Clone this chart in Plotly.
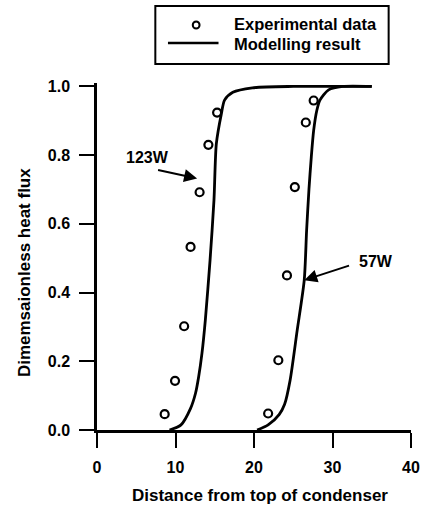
import plotly.graph_objects as go

# ---- data ----
exp_123_x = [8.62, 9.94, 11.1, 11.92, 13.07, 14.19, 15.3]
exp_123_y = [0.046, 0.143, 0.302, 0.533, 0.692, 0.830, 0.924]
exp_57_x = [21.8, 23.1, 24.2, 25.2, 26.6, 27.6]
exp_57_y = [0.048, 0.203, 0.45, 0.707, 0.895, 0.959]

mod_123_x = [9.24, 10.7, 11.92, 12.55, 12.95, 13.37, 13.8, 14.4, 14.9, 15.2, 15.84, 16.25, 17.3, 19.8, 25.0, 35.0]
mod_123_y = [0.0, 0.015, 0.063, 0.107, 0.155, 0.223, 0.32, 0.494, 0.669, 0.833, 0.92, 0.96, 0.983, 0.996, 1.0, 1.0]
mod_57_x = [20.4, 21.8, 23.2, 23.9, 24.6, 25.5, 26.4, 26.7, 27.0, 27.3, 27.6, 28.0, 28.4, 29.5, 31.3, 35.0]
mod_57_y = [0.0, 0.015, 0.045, 0.075, 0.145, 0.29, 0.436, 0.58, 0.70, 0.795, 0.872, 0.93, 0.96, 0.99, 1.0, 1.0]

x_ticks = [0, 10, 20, 30, 40]
y_ticks = [0.0, 0.2, 0.4, 0.6, 0.8, 1.0]

legend_labels = ["Experimental data", "Modelling result"]
x_title = "Distance from top of condenser"
y_title = "Dimemsaionless heat flux"
label_123 = "123W"
label_57 = "57W"
arrow_123 = dict(tail=(7.59, 0.758), head=(12.75, 0.732), text=(6.44, 0.794))
arrow_57 = dict(tail=(32.3, 0.48), head=(26.4, 0.436), text=(35.6, 0.49))

# ---- layout geometry ----
W, H = 431, 513
ML, MR, MT, MB = 97, 11, 83, 83
PW, PH = W - ML - MR, H - MT - MB
FONT = "Liberation Sans, Arial, sans-serif"


def px_x(p):
    return (p - ML) / PW


def px_y(p):
    return (H - MB - p) / PH


fig = go.Figure()

for mx, my in [(mod_123_x, mod_123_y), (mod_57_x, mod_57_y)]:
    fig.add_trace(go.Scatter(x=mx, y=my, mode="lines", showlegend=False,
                             line=dict(color="black", width=2.8, shape="spline", smoothing=0.7)))

for ex, ey in [(exp_123_x, exp_123_y), (exp_57_x, exp_57_y)]:
    fig.add_trace(go.Scatter(x=ex, y=ey, mode="markers", showlegend=False, cliponaxis=False,
                             marker=dict(symbol="circle-open", size=8, color="black",
                                         line=dict(width=2.2, color="black"))))

annotations = []
shapes = []

# arrows and labels
for arr, lab in [(arrow_123, label_123), (arrow_57, label_57)]:
    annotations.append(dict(x=arr["head"][0], y=arr["head"][1], ax=arr["tail"][0], ay=arr["tail"][1],
                            xref="x", yref="y", axref="x", ayref="y", text="", showarrow=True,
                            arrowhead=2, arrowsize=1.3, arrowwidth=2, arrowcolor="black"))
    annotations.append(dict(x=arr["text"][0], y=arr["text"][1], xref="x", yref="y", text=lab,
                            showarrow=False, font=dict(family=FONT, size=16, color="black", weight="bold")))

# axis titles
annotations.append(dict(x=px_x(265), y=px_y(495), xref="paper", yref="paper", text=x_title,
                        showarrow=False, xanchor="center", yanchor="middle",
                        font=dict(family=FONT, size=17, color="black", weight="bold")))
annotations.append(dict(x=px_x(22), y=px_y(273), xref="paper", yref="paper", text=y_title,
                        showarrow=False, xanchor="center", yanchor="middle", textangle=-90,
                        font=dict(family=FONT, size=17, color="black", weight="bold")))

# manual legend
shapes.append(dict(type="rect", xref="paper", yref="paper",
                   x0=px_x(157), x1=px_x(397), y0=px_y(64), y1=px_y(6),
                   line=dict(color="black", width=2), fillcolor="white"))
shapes.append(dict(type="circle", xref="paper", yref="paper",
                   x0=px_x(195.5), x1=px_x(202.5), y0=px_y(28.5), y1=px_y(21.5),
                   line=dict(color="black", width=2)))
shapes.append(dict(type="line", xref="paper", yref="paper",
                   x0=px_x(170), x1=px_x(222), y0=px_y(43), y1=px_y(43),
                   line=dict(color="black", width=2.5)))
for lab, py in zip(legend_labels, [24, 44]):
    annotations.append(dict(x=px_x(236), y=px_y(py), xref="paper", yref="paper", text=lab,
                            xanchor="left", yanchor="middle", showarrow=False,
                            font=dict(family=FONT, size=16.5, color="black", weight="bold")))

fig.update_layout(
    width=W, height=H,
    margin=dict(l=ML, r=MR, t=MT, b=MB, pad=0),
    paper_bgcolor="white", plot_bgcolor="white",
    font=dict(family=FONT, size=15, color="black", weight="bold"),
    annotations=annotations, shapes=shapes,
)
fig.update_xaxes(range=[0, 40], tickvals=x_ticks, ticktext=[str(v) for v in x_ticks],
                 ticks="outside", ticklen=15, tickwidth=2.2, tickcolor="black",
                 showline=True, linecolor="black", linewidth=2.5,
                 showgrid=False, zeroline=False, ticklabelstandoff=6,
                 tickfont=dict(family=FONT, size=16, color="black", weight="bold"))
fig.update_yaxes(range=[0, 1.01], tickvals=y_ticks, ticktext=[f"{v:.1f}" for v in y_ticks],
                 ticks="outside", ticklen=15, tickwidth=2.2, tickcolor="black",
                 showline=True, linecolor="black", linewidth=2.5,
                 showgrid=False, zeroline=False, ticklabelstandoff=6,
                 tickfont=dict(family=FONT, size=16, color="black", weight="bold"))

fig.write_html("out.html")
